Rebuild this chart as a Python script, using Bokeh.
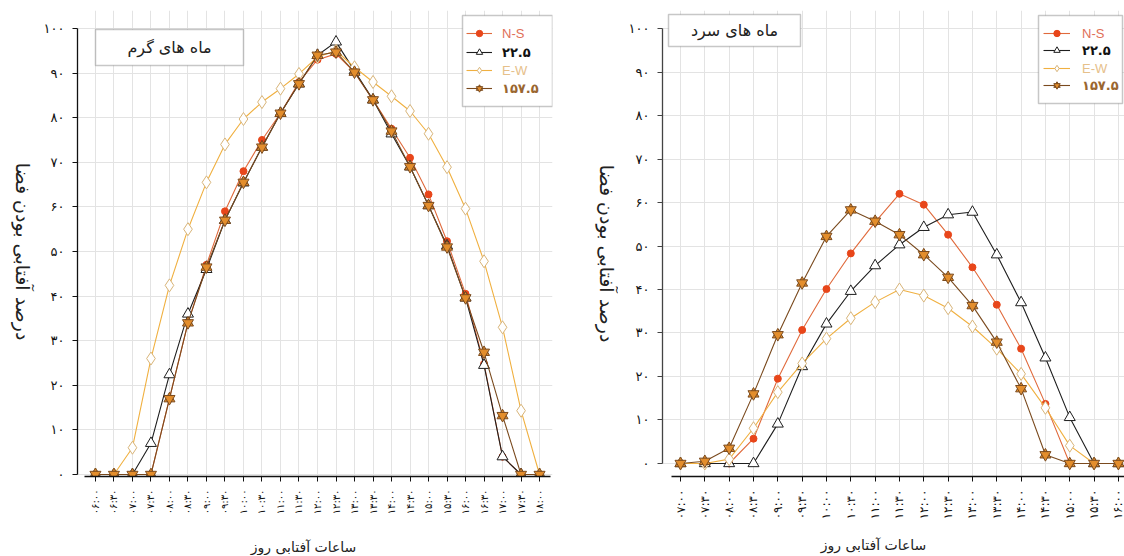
import math
from bokeh.plotting import figure
from bokeh.models import FixedTicker, Legend, LegendItem, Label, BoxAnnotation
from bokeh.layouts import row, column
from bokeh.embed import file_html
from bokeh.resources import INLINE

FA_FONT = "DejaVu Sans"
LAT_FONT = "Liberation Sans"

# ---------------- data ----------------
warm_times = ["۰۶:۰۰", "۰۶:۳۰", "۰۷:۰۰", "۰۷:۳۰", "۰۸:۰۰", "۰۸:۳۰", "۰۹:۰۰", "۰۹:۳۰",
              "۱۰:۰۰", "۱۰:۳۰", "۱۱:۰۰", "۱۱:۳۰", "۱۲:۰۰", "۱۲:۳۰", "۱۳:۰۰", "۱۳:۳۰",
              "۱۴:۰۰", "۱۴:۳۰", "۱۵:۰۰", "۱۵:۳۰", "۱۶:۰۰", "۱۶:۳۰", "۱۷:۰۰", "۱۷:۳۰", "۱۸:۰۰"]
warm_ns = [0, 0, 0, 0, 17, 34, 47, 59, 68, 75, 81, 88, 93, 94.3, 90.2, 84, 77.5, 71, 62.8, 52.3, 40.5, 24.8, 4, 0, 0]
warm_225 = [0, 0, 0, 7, 22.4, 36, 46, 57, 65.4, 73.4, 81, 87.6, 94, 97, 90.5, 84, 76.4, 69, 60.3, 51.3, 39.6, 24.5, 4, 0, 0]
warm_ew = [0, 0, 6, 26, 42.4, 55, 65.5, 74, 79.7, 83.5, 86.5, 89.8, 93.6, 95, 91.3, 88, 84.8, 81.5, 76.4, 68.9, 59.6, 47.8, 33, 14.3, 0]
warm_1575 = [0, 0, 0, 0, 17, 34, 46.5, 57, 65.5, 73.4, 81, 87.6, 94, 94.7, 90.2, 84, 77, 69, 60.3, 51, 39.6, 27.4, 13.2, 0, 0]

cold_times = ["۰۷:۰۰", "۰۷:۳۰", "۰۸:۰۰", "۰۸:۳۰", "۰۹:۰۰", "۰۹:۳۰", "۱۰:۰۰", "۱۰:۳۰",
              "۱۱:۰۰", "۱۱:۳۰", "۱۲:۰۰", "۱۲:۳۰", "۱۳:۰۰", "۱۳:۳۰", "۱۴:۰۰", "۱۴:۳۰",
              "۱۵:۰۰", "۱۵:۳۰", "۱۶:۰۰"]
cold_ns = [0, 0, 0, 5.7, 19.5, 30.7, 40.1, 48.3, 55.5, 62, 59.5, 52.6, 45.1, 36.5, 26.4, 13.7, 0, 0, 0]
cold_225 = [0, 0, 0, 0, 9.1, 22.3, 32.1, 39.6, 45.5, 50.3, 54.3, 57.2, 57.8, 48, 37, 24.3, 10.6, 0, 0]
cold_ew = [0, 0, 1, 8.1, 16.4, 23, 28.7, 33.4, 37.1, 40, 38.6, 35.7, 31.5, 26.4, 20.6, 12.8, 4.1, 0, 0]
cold_1575 = [0, 0.5, 3.5, 16, 29.6, 41.5, 52.2, 58.3, 55.7, 52.6, 48, 42.8, 36.3, 27.9, 17.2, 2, 0, 0, 0]

series_names = ["N-S", "۲۲.۵", "E-W", "۱۵۷.۵"]
y_ticks = [0, 10, 20, 30, 40, 50, 60, 70, 80, 90, 100]
y_tick_labels = ["۰", "۱۰", "۲۰", "۳۰", "۴۰", "۵۰", "۶۰", "۷۰", "۸۰", "۹۰", "۱۰۰"]

warm_title = "ماه های گرم"
cold_title = "ماه های سرد"
x_title = "ساعات آفتابی روز"
y_title = "درصد آفتابی بودن فضا"

# ---------------- styles ----------------
STY = {
    "N-S": dict(line="#E06A3C", fill="#E8461A", edge="#E8461A", text="#E07058", font=LAT_FONT, bold=False),
    "۲۲.۵": dict(line="#1E1E1E", fill="white", edge="#1E1E1E", text="#111111", font=FA_FONT, bold=True),
    "E-W": dict(line="#F0B040", fill="white", edge="#D8B478", text="#E6C08A", font=LAT_FONT, bold=False),
    "۱۵۷.۵": dict(line="#7A4A1E", fill="#E38E2C", edge="#7A4A1E", text="#9A6630", font=FA_FONT, bold=True),
}

ROW_H = 535
TOP_B = 10
BOT_B = 59


def draw_series(p, x, y, name):
    s = STY[name]
    rs = [p.line(x, y, line_color=s["line"], line_width=1.1)]
    if name == "N-S":
        rs.append(p.scatter(x, y, marker="circle", size=7, fill_color=s["fill"], line_color=s["edge"], line_width=1))
    elif name == "۲۲.۵":
        rs.append(p.scatter(x, y, marker="triangle", size=11, fill_color=s["fill"], line_color=s["edge"], line_width=1))
    elif name == "E-W":
        rs.append(p.scatter(x, y, marker="diamond", size=13, fill_color=s["fill"], line_color=s["edge"], line_width=1))
    else:
        rs.append(p.scatter(x, y, marker="triangle", size=11, fill_color=s["fill"], line_color=s["edge"], line_width=1))
        rs.append(p.scatter(x, y, marker="inverted_triangle", size=11, fill_color=s["fill"], fill_alpha=0.9,
                            line_color=s["edge"], line_width=1))
    return rs


def text_panel(width, height, labels, top=0, bottom=0):
    """A plain figure used only to hold axis-title texts."""
    p = figure(width=width, height=height, output_backend="svg", toolbar_location=None,
               x_range=(0, 1), y_range=(0, 1), x_axis_location=None, y_axis_location=None,
               min_border_left=0, min_border_right=0, min_border_top=top, min_border_bottom=bottom)
    p.outline_line_color = None
    p.grid.visible = False
    for (x, y, txt, ang, size) in labels:
        p.add_layout(Label(x=x, y=y, x_units="screen", y_units="screen", text=txt, angle=ang,
                           text_font=FA_FONT, text_font_size=size, text_color="#222222",
                           text_align="center", text_baseline="middle"))
    return p


def make_chart(times, data, width, border_left, border_right, x_range, y_range,
               x_bounds, xlab_size, ylab_size, title, title_box, title_pos, legend_box, legend_x,
               legend_ys, glyph_w, lab_standoff, yaxis_color):
    n = len(times)
    p = figure(width=width, height=ROW_H, output_backend="svg", toolbar_location=None,
               x_range=x_range, y_range=y_range,
               min_border_left=border_left, min_border_right=border_right,
               min_border_top=TOP_B, min_border_bottom=BOT_B)
    p.outline_line_color = None
    p.background_fill_color = "white"
    p.border_fill_color = "white"

    xs = list(range(n))
    xa = p.xaxis[0]
    xa.ticker = FixedTicker(ticks=xs)
    xa.major_label_overrides = {i: t for i, t in enumerate(times)}
    xa.major_label_orientation = math.pi / 2
    xa.bounds = x_bounds
    xa.major_label_text_font = FA_FONT
    xa.major_label_text_font_size = xlab_size
    xa.major_label_text_color = "#111111"
    xa.major_label_standoff = 8
    xa.major_tick_out = 5
    xa.major_tick_in = 0
    xa.minor_tick_line_color = None
    xa.axis_line_color = "#111111"
    xa.axis_line_width = 1.3
    xa.major_tick_line_color = "#111111"

    ya = p.yaxis[0]
    ya.ticker = FixedTicker(ticks=y_ticks)
    ya.major_label_overrides = {v: t for v, t in zip(y_ticks, y_tick_labels)}
    ya.bounds = (0, 100)
    ya.major_label_text_font = FA_FONT
    ya.major_label_text_font_size = ylab_size
    ya.major_label_text_color = "#111111"
    ya.major_label_standoff = 8
    ya.major_tick_out = 5
    ya.major_tick_in = 0
    ya.minor_tick_line_color = None
    ya.axis_line_color = yaxis_color
    ya.axis_line_width = 1.3
    ya.major_tick_line_color = yaxis_color

    p.xgrid.grid_line_color = "#E3E3E3"
    p.ygrid.grid_line_color = "#E3E3E3"

    renderers = {}
    for name, vals in zip(series_names, data):
        renderers[name] = draw_series(p, xs, vals, name)

    # title box
    l, r, b, t = title_box
    p.add_layout(BoxAnnotation(left=l, right=r, bottom=b, top=t, left_units="screen", right_units="screen",
                               bottom_units="screen", top_units="screen", fill_color="white", fill_alpha=1,
                               line_color="#444444", line_width=1.5))
    p.add_layout(Label(x=title_pos[0], y=title_pos[1], x_units="screen", y_units="screen", text=title,
                       text_font=FA_FONT, text_font_size="16px", text_color="#222222",
                       text_align="center", text_baseline="middle"))

    # legend box
    l, r, b, t = legend_box
    p.add_layout(BoxAnnotation(left=l, right=r, bottom=b, top=t, left_units="screen", right_units="screen",
                               bottom_units="screen", top_units="screen", fill_color="white", fill_alpha=1,
                               line_color="#444444", line_width=1.5))
    for name, ly in zip(series_names, legend_ys):
        s = STY[name]
        lg = Legend(items=[LegendItem(label=name, renderers=renderers[name])],
                    location=(legend_x, ly), orientation="vertical",
                    background_fill_alpha=0, border_line_color=None, padding=0, margin=0, spacing=0,
                    glyph_width=glyph_w, glyph_height=16, label_height=16, label_standoff=lab_standoff,
                    label_text_font=s["font"], label_text_font_size="13px", label_text_color=s["text"],
                    label_text_font_style="bold" if s["bold"] else "normal")
        p.add_layout(lg)
    return p


# y-axis titles (read top to bottom, as in the reference)
ytitle_left = text_panel(36, ROW_H, [(22, 225, y_title, -math.pi / 2, "19px")], top=TOP_B, bottom=BOT_B)

left = make_chart(warm_times, [warm_ns, warm_225, warm_ew, warm_1575],
                  width=520, border_left=41, border_right=4,
                  x_range=(-0.97, 24.7), y_range=(-0.45, 104.03), x_bounds=(-0.6, 24.6),
                  xlab_size="10px", ylab_size="13px",
                  title=warm_title, title_box=(18, 166, 411, 447), title_pos=(92, 429),
                  legend_box=(385, 475, 370, 461), legend_x=389, legend_ys=(435, 416, 398, 380),
                  glyph_w=26, lab_standoff=10, yaxis_color="#111111")

ytitle_right = text_panel(62, ROW_H, [(50, 223, y_title, -math.pi / 2, "19px")], top=TOP_B, bottom=BOT_B)

right = make_chart(cold_times, [cold_ns, cold_225, cold_ew, cold_1575],
                   width=506, border_left=44, border_right=0,
                   x_range=(-0.74, 18.25), y_range=(-2.99, 104.14), x_bounds=(-0.35, 18.3),
                   xlab_size="12px", ylab_size="13px",
                   title=cold_title, title_box=(6, 138, 430, 462), title_pos=(72, 446),
                   legend_box=(376, 460, 373, 461), legend_x=381, legend_ys=(435, 418, 400, 383),
                   glyph_w=27, lab_standoff=12, yaxis_color="#444444")

# x-axis titles strip
xtitles = text_panel(1124, 20, [(303, 9, x_title, 0, "14px"), (873, 11, x_title, 0, "14px")])

layout = column(row(ytitle_left, left, ytitle_right, right, spacing=0), xtitles, spacing=0)
open("out.html", "w").write(file_html(layout, INLINE))
